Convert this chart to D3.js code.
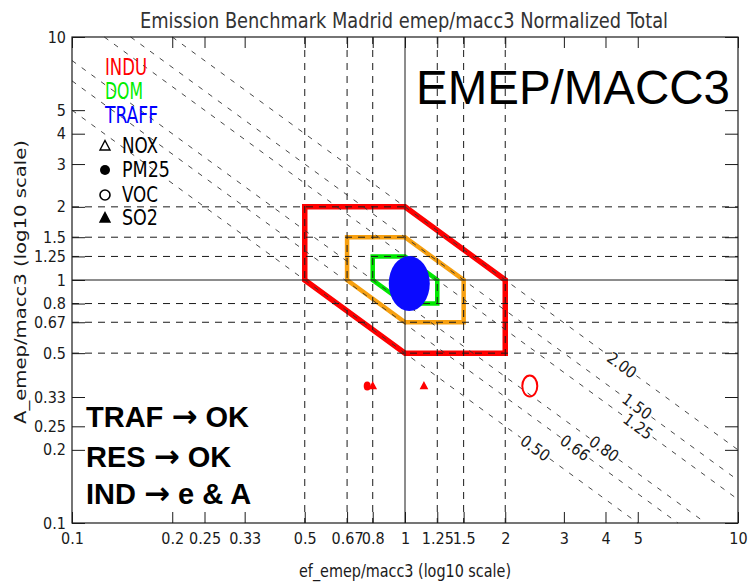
<!DOCTYPE html>
<html><head><meta charset="utf-8">
<script src="https://cdn.jsdelivr.net/npm/d3@7"></script>
<style>
html,body{margin:0;padding:0;background:#fff;}
svg{display:block;}
.thin{font-family:"Liberation Sans Narrow","DejaVu Sans Condensed","Liberation Sans",sans-serif;}
</style></head>
<body>
<svg id="chart" width="750" height="584"></svg>
<script>
// ---- data ----
const titleText = "Emission Benchmark Madrid emep/macc3 Normalized Total";
const xLabelText = "ef_emep/macc3 (log10 scale)";
const yLabelText = "A_emep/macc3 (log10 scale)";
const xTicks = [0.1, 0.2, 0.25, 0.33, 0.5, 0.67, 0.8, 1, 1.25, 1.5, 2, 3, 4, 5, 10];
const xTickLabels = ["0.1","0.2","0.25","0.33","0.5","0.67","0.8","1","1.25","1.5","2","3","4","5","10"];
const yTicks = [0.1, 0.2, 0.25, 0.33, 0.5, 0.67, 0.8, 1, 1.25, 1.5, 2, 3, 4, 5, 10];
const yTickLabels = ["0.1","0.2","0.25","0.33","0.5","0.67","0.8","1","1.25","1.5","2","3","4","5","10"];
const gridDashed = [0.5, 0.67, 0.8, 1.25, 1.5, 2];
const gridSolid = [1];
const productLevels = [0.5, 0.66, 0.8, 1.25, 1.5, 2.0];
const productLabels = ["0.50", "0.66", "0.80", "1.25", "1.50", "2.00"];
const productLabelAt = [2.46, 3.24, 3.96, 5.01, 4.97, 4.48];   // e value where each label sits
const induBox = [[0.5, 2], [1, 2], [2, 1], [2, 0.5], [1, 0.5], [0.5, 1]];
const midBox = [[0.67, 1.5], [1, 1.5], [1.5, 1], [1.5, 0.67], [1, 0.67], [0.67, 1]];
const domBox = [[0.8, 1.25], [1, 1.25], [1.25, 1], [1.25, 0.8], [1, 0.8], [0.8, 1]];
const induSpecies = ["PM25", "NOX", "SO2", "VOC"];
const induE = [0.77, 0.80, 1.14, 2.37];
const induA = [0.366, 0.366, 0.366, 0.366];
const traffE = [1.03];
const traffA = [0.967];
const legendSectors = ["INDU", "DOM", "TRAFF"];
const legendSectorColors = ["#ff0000", "#00ee00", "#0000ff"];
const legendSpecies = ["NOX", "PM25", "VOC", "SO2"];
const noteHeads = ["TRAF", "RES", "IND"];
const noteTails = ["OK", "OK", "e & A"];

// ---- layout ----
const svg = d3.select("#chart");
const L = 72, R = 738, T = 37, B = 523;
const x = d3.scaleLog().domain([0.1, 10]).range([L, R]);
const y = d3.scaleLog().domain([0.1, 10]).range([B, T]);
const ink = "#1a1a1a";

// polygons
const poly = d3.line().x(d => x(d[0])).y(d => y(d[1]));
function drawBox(data, color, w) {
  svg.append("path").attr("d", poly(data) + "Z")
    .attr("fill", "none").attr("stroke", color).attr("stroke-width", w)
    .attr("stroke-linejoin", "miter");
}
drawBox(induBox, "#ff0000", 5.5);
drawBox(midBox, "#f7a010", 4.5);
drawBox(domBox, "#00e800", 4.5);

// grid lines
const g = svg.append("g");
gridDashed.forEach(v => {
  g.append("line").attr("x1", x(v)).attr("x2", x(v)).attr("y1", T).attr("y2", B)
    .attr("stroke", ink).attr("stroke-dasharray", "7,6");
  g.append("line").attr("x1", L).attr("x2", R).attr("y1", y(v)).attr("y2", y(v))
    .attr("stroke", ink).attr("stroke-dasharray", "7,6");
});
gridSolid.forEach(v => {
  g.append("line").attr("x1", x(v)).attr("x2", x(v)).attr("y1", T).attr("y2", B).attr("stroke", ink);
  g.append("line").attr("x1", L).attr("x2", R).attr("y1", y(v)).attr("y2", y(v)).attr("stroke", ink);
});

// product (e*A = const) lines with labels
const angle = Math.atan2(y(0.1) - y(1), x(10) - x(1)) * 180 / Math.PI;
productLevels.forEach((c, i) => {
  const e0 = Math.max(0.1, c / 10), e1 = Math.min(10, c * 10);
  const ex = productLabelAt[i];
  const pc = x(ex);
  const half = 18 * Math.cos(angle * Math.PI / 180);
  const eA = x.invert(pc - half), eB = x.invert(pc + half);
  [[e0, eA], [eB, e1]].forEach(([a, b]) => {
    if (b <= a) return;
    g.append("line").attr("x1", x(a)).attr("y1", y(c / a)).attr("x2", x(b)).attr("y2", y(c / b))
      .attr("stroke", "#333").attr("stroke-width", 0.9).attr("stroke-dasharray", "5,7");
  });
  g.append("text").attr("class", "thin")
    .attr("transform", `translate(${pc},${y(c / ex)}) rotate(${angle})`)
    .attr("text-anchor", "middle").attr("dy", "0.35em")
    .attr("font-size", 16).attr("fill", ink).text(productLabels[i]);
});

// symbols
function sym(sel, sp, cx, cy, s, color) {
  if (sp === "PM25") sel.append("circle").attr("cx", cx).attr("cy", cy).attr("r", s).attr("fill", color);
  else if (sp === "VOC") sel.append("circle").attr("cx", cx).attr("cy", cy).attr("r", s).attr("fill", "none").attr("stroke", color).attr("stroke-width", 1.6);
  else {
    const p = `M${cx},${cy - s * 1.1}L${cx + s},${cy + s * 0.8}L${cx - s},${cy + s * 0.8}Z`;
    sel.append("path").attr("d", p).attr("fill", sp === "SO2" ? color : "none")
      .attr("stroke", color).attr("stroke-width", 1.4);
  }
}
const m = svg.append("g");
induSpecies.forEach((sp, i) => {
  if (sp === "VOC") {
    m.append("ellipse").attr("cx", x(induE[i])).attr("cy", y(induA[i])).attr("rx", 7.5).attr("ry", 10.5)
      .attr("fill", "none").attr("stroke", "#ff0000").attr("stroke-width", 2);
  } else if (sp === "PM25") {
    m.append("ellipse").attr("cx", x(induE[i])).attr("cy", y(induA[i])).attr("rx", 3.5).attr("ry", 4.5).attr("fill", "#ff0000");
  } else {
    sym(m, "SO2", x(induE[i]), y(induA[i]), 3.2, "#ff0000");
  }
});
traffE.forEach((e, i) => {
  m.append("ellipse").attr("cx", x(e)).attr("cy", y(traffA[i])).attr("rx", 20.5).attr("ry", 27.5).attr("fill", "#0a0aff");
});

// frame
svg.append("rect").attr("x", L).attr("y", T).attr("width", R - L).attr("height", B - T)
  .attr("fill", "none").attr("stroke", ink).attr("stroke-width", 1.2);

// axes
const ax = svg.append("g").attr("class", "thin");
const axBottom = d3.axisBottom(x).tickValues(xTicks).tickFormat((d, i) => xTickLabels[i]).tickSize(-11).tickPadding(10);
const axTop = d3.axisTop(x).tickValues(xTicks).tickFormat("").tickSize(-11);
const axLeft = d3.axisLeft(y).tickValues(yTicks).tickFormat((d, i) => yTickLabels[i]).tickSize(-13).tickPadding(6);
const axRight = d3.axisRight(y).tickValues(yTicks).tickFormat("").tickSize(-13);
[[axBottom, `translate(0,${B})`], [axTop, `translate(0,${T})`], [axLeft, `translate(${L},0)`], [axRight, `translate(${R},0)`]].forEach(([a, t]) => {
  const gg = ax.append("g").attr("transform", t).call(a);
  gg.select(".domain").remove();
  gg.selectAll("line").attr("stroke", ink);
  gg.selectAll("text").attr("font-size", 16).attr("fill", ink)
    .attr("font-family", '"Liberation Sans Narrow","DejaVu Sans Condensed",sans-serif');
});

// title & axis labels
svg.append("text").attr("class", "thin").attr("x", 404).attr("y", 28).attr("text-anchor", "middle")
  .attr("font-size", 21).attr("fill", "#333").attr("textLength", 528).attr("lengthAdjust", "spacingAndGlyphs").text(titleText);
svg.append("text").attr("class", "thin").attr("x", 405).attr("y", 577).attr("text-anchor", "middle")
  .attr("font-size", 17).attr("fill", ink).attr("textLength", 212).attr("lengthAdjust", "spacingAndGlyphs").text(xLabelText);
svg.append("text").attr("class", "thin").attr("transform", "translate(26,282) rotate(-90)").attr("text-anchor", "middle")
  .attr("font-size", 16).attr("fill", ink).attr("textLength", 284).attr("lengthAdjust", "spacingAndGlyphs").text(yLabelText);

// legend
const lg = svg.append("g").attr("class", "thin");
const secY = [75, 99, 123], secW = [42, 38, 53];
legendSectors.forEach((s, i) => {
  lg.append("text").attr("x", 105).attr("y", secY[i]).attr("font-size", 23).attr("fill", legendSectorColors[i])
    .attr("textLength", secW[i]).attr("lengthAdjust", "spacingAndGlyphs").text(s);
});
const spY = [153, 177, 202, 225], spW = [36, 48, 36, 36];
legendSpecies.forEach((s, i) => {
  sym(lg, s, 105, spY[i] - 7, 5, "#000");
  lg.append("text").attr("x", 122).attr("y", spY[i]).attr("font-size", 22).attr("fill", "#000")
    .attr("textLength", spW[i]).attr("lengthAdjust", "spacingAndGlyphs").text(s);
});

// big label
svg.append("text").attr("x", 416).attr("y", 104).attr("font-family", '"Liberation Sans",Arial,sans-serif')
  .attr("font-size", 48).attr("fill", "#000").attr("textLength", 314).attr("lengthAdjust", "spacingAndGlyphs").text("EMEP/MACC3");

// notes
const noteY = [427, 467, 504];
noteHeads.forEach((h, i) => {
  const t = svg.append("text").attr("x", 86).attr("y", noteY[i]).attr("font-family", '"Liberation Sans",Arial,sans-serif')
    .attr("font-weight", "bold").attr("font-size", 29).attr("fill", "#000");
  t.append("tspan").text(h + " ");
  t.append("tspan").attr("font-family", '"DejaVu Sans",sans-serif').attr("font-size", 31).text("\u2192");
  t.append("tspan").text(" " + noteTails[i]);
});
</script>
</body></html>
